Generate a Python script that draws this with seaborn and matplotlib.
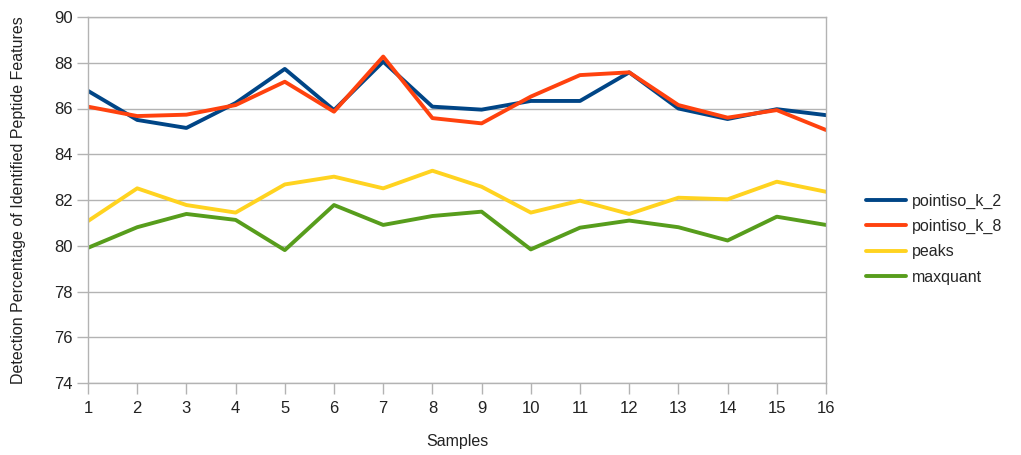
import numpy as np
import pandas as pd
import matplotlib
matplotlib.use("Agg")
import matplotlib.pyplot as plt
import seaborn as sns

samples = list(range(1, 17))
pointiso_k_2 = [86.77, 85.50, 85.15, 86.24, 87.73, 85.93, 88.05, 86.08,
                85.95, 86.33, 86.33, 87.58, 86.00, 85.54, 85.97, 85.71]
pointiso_k_8 = [86.08, 85.67, 85.73, 86.15, 87.17, 85.86, 88.27, 85.58,
                85.35, 86.52, 87.46, 87.58, 86.15, 85.60, 85.93, 85.06]
peaks = [81.08, 82.51, 81.78, 81.45, 82.68, 83.02, 82.51, 83.28,
         82.58, 81.45, 81.97, 81.39, 82.10, 82.03, 82.80, 82.36]
maxquant = [79.91, 80.81, 81.39, 81.13, 79.81, 81.78, 80.91, 81.30,
            81.49, 79.84, 80.79, 81.10, 80.81, 80.23, 81.27, 80.91]

series_names = ["pointiso_k_2", "pointiso_k_8", "peaks", "maxquant"]
series_values = [pointiso_k_2, pointiso_k_8, peaks, maxquant]
colors = ["#004586", "#ff420e", "#ffd320", "#579d1c"]

df = pd.DataFrame(
    [(s, name, v) for name, vals in zip(series_names, series_values)
     for s, v in zip(samples, vals)],
    columns=["Samples", "method", "value"],
)

sns.set_theme(style="white")
plt.rcParams["font.family"] = ["Liberation Sans", "DejaVu Sans"]

fig = plt.figure(figsize=(10.21, 4.55), dpi=100)
ax = fig.add_axes([88 / 1021, 1 - 383 / 455, (826 - 88) / 1021, (383 - 17) / 455])

sns.lineplot(data=df, x="Samples", y="value", hue="method",
             hue_order=series_names, palette=colors, linewidth=2.8,
             ax=ax, legend=True)

ax.set_xlim(1, 16)
ax.set_ylim(74, 90)
ax.set_xticks(samples)
ax.set_yticks(np.arange(74, 91, 2))
ax.yaxis.grid(True, color="#b3b3b3", linewidth=1)
ax.xaxis.grid(False)
ax.set_axisbelow(True)
for sp in ax.spines.values():
    sp.set_color("#b3b3b3")
    sp.set_linewidth(1)
ax.tick_params(axis="both", which="major", length=8, width=1, color="#b3b3b3",
               labelsize=12, labelcolor="#222222", direction="out",
               bottom=True, left=True)
ax.tick_params(axis="x", pad=5)
ax.tick_params(axis="y", pad=3)

ax.set_xlabel("Samples", fontsize=11.5, color="#222222", labelpad=13)
ax.set_ylabel("Detection Percentage of Identified Peptide Features",
              fontsize=11.5, color="#222222", labelpad=20)

handles, labels = ax.get_legend_handles_labels()
ax.legend(handles, labels, loc="center left", bbox_to_anchor=(1.045, 0.393),
          frameon=False, fontsize=11.5, handlelength=2.5, handletextpad=0.4,
          labelspacing=0.65, borderaxespad=0)

fig.savefig("out.png", dpi=100)
